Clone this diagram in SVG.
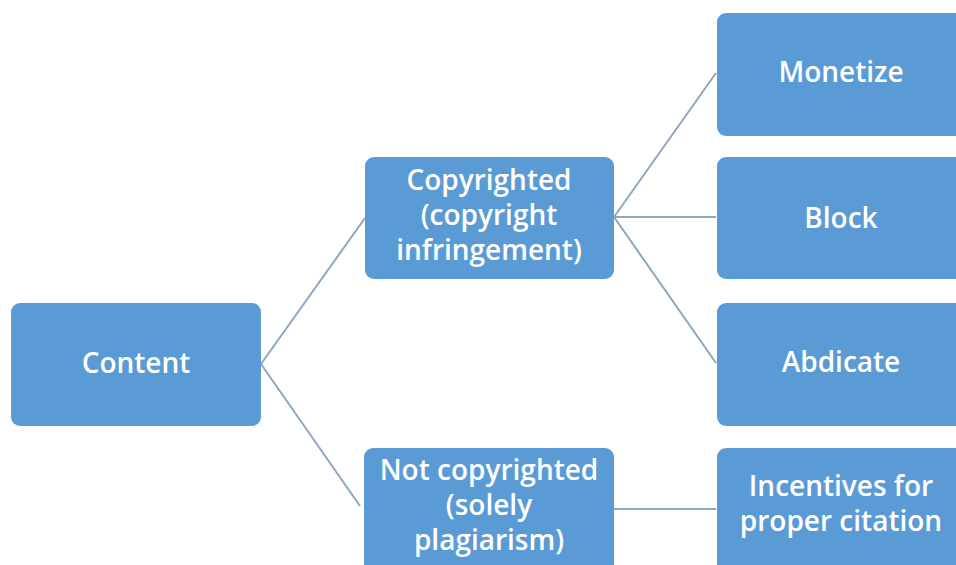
<svg xmlns="http://www.w3.org/2000/svg" width="956" height="565" viewBox="0 0 956 565">
<style>
.box{fill:#5B9BD5;}
.t{fill:#FFFFFF;font-family:"Open Sans","Liberation Sans",sans-serif;font-size:28px;font-weight:600;text-anchor:middle;}
.c{stroke:#8FA6C2;stroke-width:2;fill:none;}
</style>
<rect width="956" height="565" fill="#FFFFFF"/>
<g id="connectors">
<line class="c" x1="261" y1="364" x2="365" y2="218"/>
<line class="c" x1="261" y1="364" x2="360" y2="506"/>
<line class="c" x1="614" y1="217" x2="716" y2="73"/>
<line class="c" x1="614" y1="217" x2="716" y2="217"/>
<line class="c" x1="614" y1="217" x2="716" y2="363"/>
<line class="c" x1="614" y1="509" x2="716" y2="509"/>
</g>
<g id="content">
<rect class="box" x="11" y="303" width="250" height="123" rx="9"/>
<text class="t" x="136" y="373">Content</text>
</g>
<g id="copyrighted">
<rect class="box" x="365" y="157" width="249" height="122" rx="9"/>
<text class="t" x="489" y="190">Copyrighted</text>
<text class="t" x="489" y="225">(copyright</text>
<text class="t" x="489" y="260">infringement)</text>
</g>
<g id="notcopyrighted">
<rect class="box" x="364" y="448" width="250" height="130" rx="9"/>
<text class="t" x="489" y="480">Not copyrighted</text>
<text class="t" x="489" y="515">(solely</text>
<text class="t" x="489" y="550">plagiarism)</text>
</g>
<g id="monetize">
<rect class="box" x="717" y="13" width="250" height="123" rx="9"/>
<text class="t" x="841" y="82">Monetize</text>
</g>
<g id="block">
<rect class="box" x="717" y="157" width="250" height="122" rx="9"/>
<text class="t" x="841" y="228">Block</text>
</g>
<g id="abdicate">
<rect class="box" x="717" y="303" width="250" height="123" rx="9"/>
<text class="t" x="841" y="372">Abdicate</text>
</g>
<g id="incentives">
<rect class="box" x="717" y="448" width="250" height="130" rx="9"/>
<text class="t" x="841" y="496">Incentives for</text>
<text class="t" x="841" y="531">proper citation</text>
</g>
</svg>
